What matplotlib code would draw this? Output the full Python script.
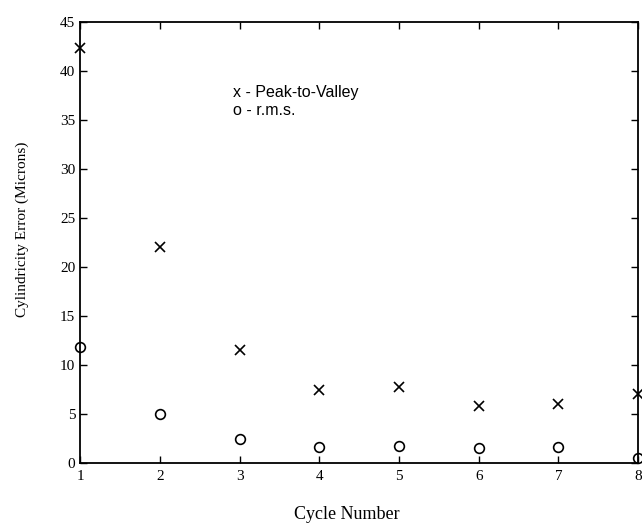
import matplotlib
matplotlib.use("Agg")
import matplotlib.pyplot as plt

cycles = [1, 2, 3, 4, 5, 6, 7, 8]
peak_to_valley = [42.4, 22.1, 11.5, 7.5, 7.8, 5.8, 6.0, 7.0]
rms = [11.8, 5.0, 2.5, 1.6, 1.7, 1.5, 1.6, 0.5]
x_ticks = [1, 2, 3, 4, 5, 6, 7, 8]
y_ticks = [0, 5, 10, 15, 20, 25, 30, 35, 40, 45]

plt.rcParams['font.family'] = ['Liberation Serif', 'DejaVu Serif']

fig = plt.figure(figsize=(6.42, 5.28), dpi=100)
ax = fig.add_axes([0.125, 0.123, 0.869, 0.835])

ax.plot(cycles, peak_to_valley, linestyle='none', marker='x', markersize=7,
        markeredgewidth=1.2, color='black', clip_on=False)
ax.plot(cycles, rms, linestyle='none', marker='o', markersize=7,
        markerfacecolor='none', markeredgewidth=1.2, color='black', clip_on=False)

ax.set_xlim(1, 8)
ax.set_ylim(0, 45)
ax.set_xticks(x_ticks)
ax.set_yticks(y_ticks)
ax.tick_params(direction='in', length=5, width=1, top=True, right=True,
               labelsize=11)
ax.tick_params(axis='x', pad=5)
for s in ax.spines.values():
    s.set_linewidth(1.3)

ax.set_xlabel('Cycle Number', fontsize=13)
ax.xaxis.set_label_coords(0.478, -0.097)
ax.set_ylabel('Cylindricity Error (Microns)', fontsize=11)
ax.yaxis.set_label_coords(-0.091, 0.53)

ax.text(0.274, 0.841, 'x - Peak-to-Valley', transform=ax.transAxes,
        fontsize=11.5, family=['Liberation Sans', 'DejaVu Sans'], va='center')
ax.text(0.274, 0.800, 'o - r.m.s.', transform=ax.transAxes,
        fontsize=11.5, family=['Liberation Sans', 'DejaVu Sans'], va='center')

fig.savefig('out.png', dpi=100)
